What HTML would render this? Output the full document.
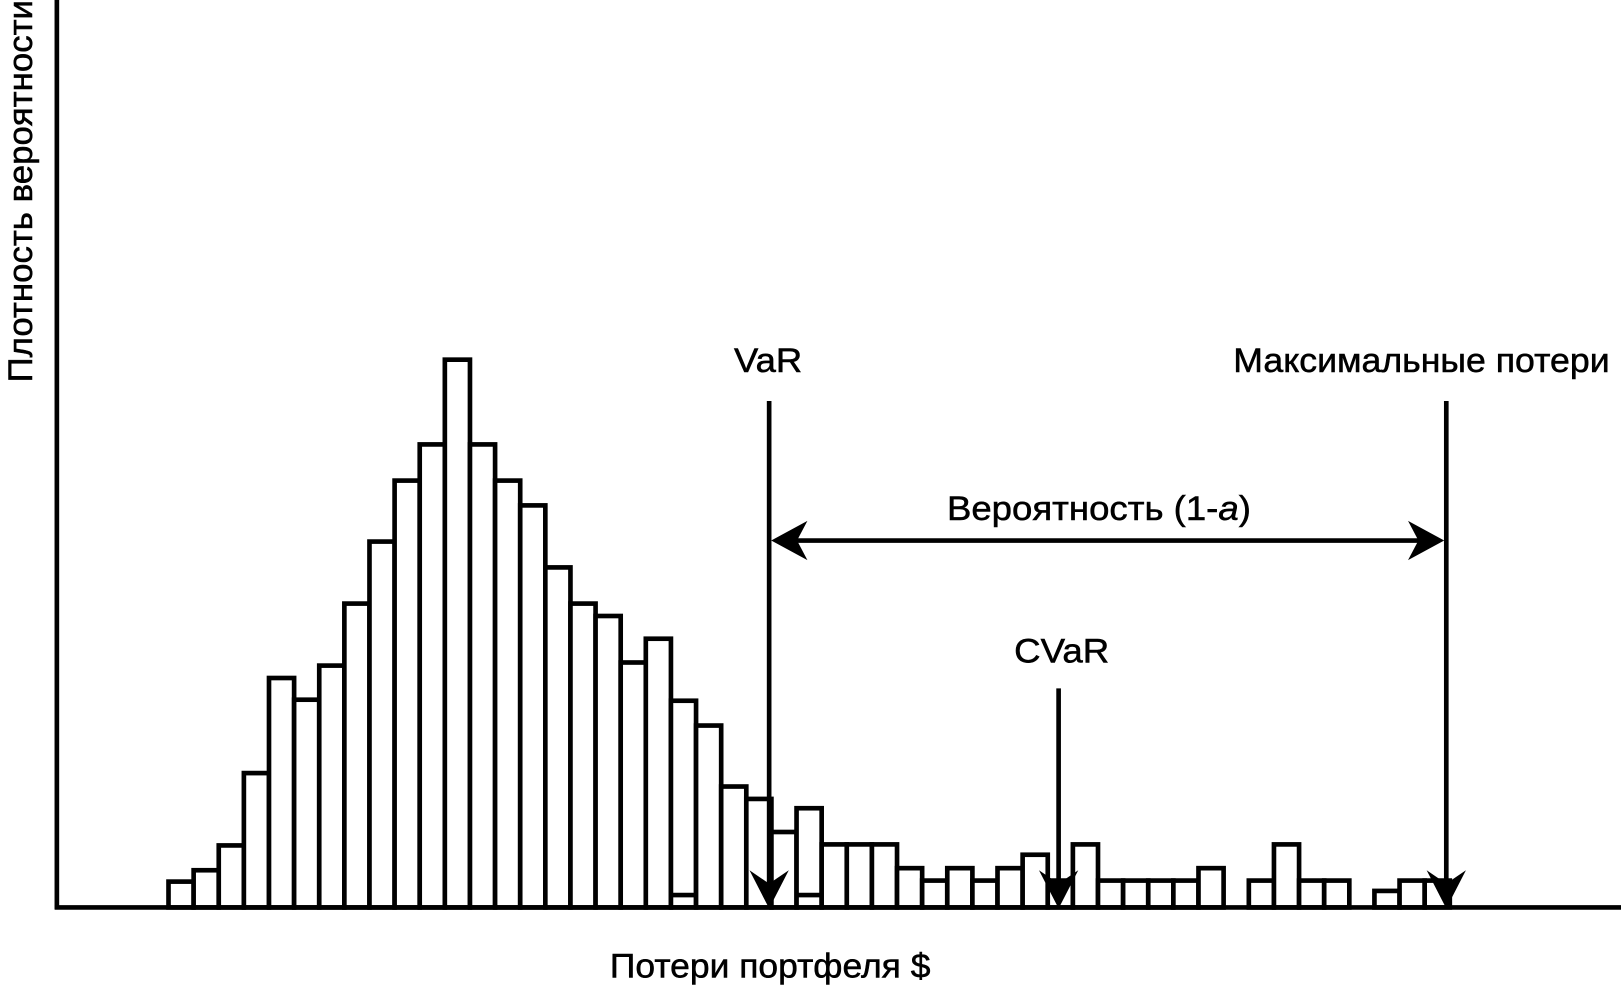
<!DOCTYPE html>
<html><head><meta charset="utf-8"><style>html,body{margin:0;padding:0;background:#fff}svg{display:block}</style></head>
<body>
<svg width="1621" height="986" viewBox="0 0 1568 954" preserveAspectRatio="none" xmlns="http://www.w3.org/2000/svg">
<g fill="#fff" stroke="#000" stroke-width="4.5">
<rect x="163" y="853" width="24.3" height="25"/>
<rect x="187.3" y="842" width="24.3" height="36"/>
<rect x="211.6" y="818" width="24.3" height="60"/>
<rect x="235.9" y="748" width="24.3" height="130"/>
<rect x="260.2" y="656" width="24.3" height="222"/>
<rect x="284.5" y="677" width="24.3" height="201"/>
<rect x="308.8" y="644" width="24.3" height="234"/>
<rect x="333.1" y="584" width="24.3" height="294"/>
<rect x="357.4" y="524" width="24.3" height="354"/>
<rect x="381.7" y="465" width="24.3" height="413"/>
<rect x="406" y="430" width="24.3" height="448"/>
<rect x="430.3" y="348" width="24.3" height="530"/>
<rect x="454.6" y="430" width="24.3" height="448"/>
<rect x="478.9" y="465" width="24.3" height="413"/>
<rect x="503.2" y="489" width="24.3" height="389"/>
<rect x="527.5" y="549" width="24.3" height="329"/>
<rect x="551.8" y="584" width="24.3" height="294"/>
<rect x="576.1" y="596" width="24.3" height="282"/>
<rect x="600.4" y="641" width="24.3" height="237"/>
<rect x="624.7" y="618" width="24.3" height="260"/>
<rect x="649" y="678" width="24.3" height="200"/>
<rect x="673.3" y="702" width="24.3" height="176"/>
<rect x="697.6" y="761" width="24.3" height="117"/>
<rect x="721.9" y="773" width="24.3" height="105"/>
<rect x="746.2" y="805" width="24.3" height="73"/>
<rect x="770.5" y="782" width="24.3" height="96"/>
<rect x="794.8" y="817" width="24.3" height="61"/>
<rect x="819.1" y="817" width="24.3" height="61"/>
<rect x="843.4" y="817" width="24.3" height="61"/>
<rect x="867.7" y="840" width="24.3" height="38"/>
<rect x="892" y="852" width="24.3" height="26"/>
<rect x="916.3" y="840" width="24.3" height="38"/>
<rect x="940.6" y="852" width="24.3" height="26"/>
<rect x="964.9" y="840" width="24.3" height="38"/>
<rect x="989.2" y="827" width="24.3" height="51"/>
<rect x="1013.5" y="852" width="24.3" height="26"/>
<rect x="1037.8" y="817" width="24.3" height="61"/>
<rect x="1062.1" y="852" width="24.3" height="26"/>
<rect x="1086.4" y="852" width="24.3" height="26"/>
<rect x="1110.7" y="852" width="24.3" height="26"/>
<rect x="1135" y="852" width="24.3" height="26"/>
<rect x="1159.3" y="840" width="24.3" height="38"/>
<rect x="1208" y="852" width="24.3" height="26"/>
<rect x="1232.3" y="817" width="24.3" height="61"/>
<rect x="1256.6" y="852" width="24.3" height="26"/>
<rect x="1280.9" y="852" width="24.3" height="26"/>
<rect x="1329.5" y="862" width="24.3" height="16"/>
<rect x="1353.8" y="852" width="24.3" height="26"/>
<rect x="1378.1" y="852" width="24.3" height="26"/>
<line x1="649" y1="866" x2="673.3" y2="866"/>
<line x1="770.5" y1="866" x2="794.8" y2="866"/>
</g>
<g stroke="#000" stroke-width="4.5" fill="none">
<line x1="55" y1="0" x2="55" y2="880"/>
<line x1="53" y1="878" x2="1568" y2="878"/>
<line x1="744" y1="388" x2="744" y2="860"/>
<line x1="1024" y1="666" x2="1024" y2="860"/>
<line x1="1399" y1="388" x2="1399" y2="860"/>
<line x1="770" y1="523" x2="1375" y2="523"/>
</g>
<g fill="#000">
<path d="M744 879 L725 842 L744 855 L763 842 Z"/>
<path d="M1024 879 L1005 842 L1024 855 L1043 842 Z"/>
<path d="M1399 879 L1380 842 L1399 855 L1418 842 Z"/>
<path d="M746 523 L781 504 L771 523 L781 542 Z"/>
<path d="M1397 523 L1362 504 L1372 523 L1362 542 Z"/>
</g>
<g font-family="Liberation Sans, sans-serif" font-size="33" fill="#000" stroke="#000" stroke-width="0.5">
<text x="710" y="360" textLength="66" lengthAdjust="spacingAndGlyphs">VaR</text>
<text x="1193" y="360" textLength="364" lengthAdjust="spacingAndGlyphs">Максимальные потери</text>
<text x="916" y="503" textLength="294" lengthAdjust="spacingAndGlyphs">Вероятность (1-<tspan font-style="italic">a</tspan>)</text>
<text x="981" y="641" textLength="92" lengthAdjust="spacingAndGlyphs">CVaR</text>
<text x="590" y="946" textLength="310" lengthAdjust="spacingAndGlyphs">Потери портфеля $</text>
<text transform="translate(31,370) rotate(-90)" x="0" y="0" textLength="370" lengthAdjust="spacingAndGlyphs">Плотность вероятности</text>
</g>
</svg>
</body></html>
